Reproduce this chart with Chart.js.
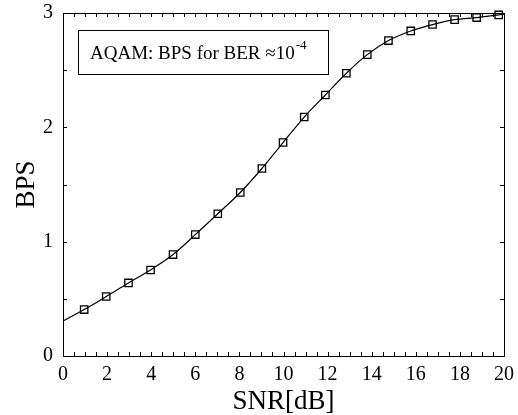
<!DOCTYPE html>
<html lang="en">
<head>
  <meta charset="UTF-8">
  <title>AQAM BPS vs SNR</title>
  <script src="https://cdn.jsdelivr.net/npm/chart.js"></script>
  <style>
    html, body { margin: 0; padding: 0; background: #fff; }
    canvas { display: block; }
  </style>
</head>
<body>
  <canvas id="bpsChart" width="518" height="415"></canvas>
  <script>
    // curve samples (first/last are line ends, no marker)
    const snr = [0, 0.96, 1.96, 2.97, 3.97, 4.99, 6.0, 7.02, 8.04, 9.02, 9.98,
      10.94, 11.9, 12.85, 13.8, 14.76, 15.77, 16.76, 17.76, 18.76, 19.76, 20];
    const bps = [0.306, 0.406, 0.52, 0.639, 0.752, 0.887, 1.062, 1.244, 1.43, 1.64, 1.867,
      2.09, 2.283, 2.473, 2.636, 2.759, 2.843, 2.899, 2.942, 2.96, 2.983, 2.99];
    const xLabels = [0, 2, 4, 6, 8, 10, 12, 14, 16, 18, 20];
    const yLabels = [0, 1, 2, 3];
    const boxText = 'AQAM: BPS for BER \u224810';
    const boxSup = '-4';

    const serif = '"Liberation Serif", "Times New Roman", serif';

    // inward tick marks on all four sides + frame + the text box
    const framePlugin = {
      id: 'frame',
      afterDatasetsDraw(chart) {
        const { ctx, chartArea: a, scales: { x, y } } = chart;
        ctx.save();
        ctx.strokeStyle = '#000';
        ctx.lineWidth = 1;
        ctx.strokeRect(a.left + 0.5, a.top + 0.5, a.right - a.left, a.bottom - a.top);
        ctx.beginPath();
        x.ticks.forEach(t => {
          const px = Math.round(x.getPixelForValue(t.value)) + 0.5;
          ctx.moveTo(px, a.bottom); ctx.lineTo(px, a.bottom - 4);
          ctx.moveTo(px, a.top); ctx.lineTo(px, a.top + 4);
        });
        y.ticks.forEach(t => {
          const py = Math.round(y.getPixelForValue(t.value)) + 0.5;
          ctx.moveTo(a.left, py); ctx.lineTo(a.left + 4, py);
          ctx.moveTo(a.right, py); ctx.lineTo(a.right - 4, py);
        });
        ctx.stroke();

        // annotation box
        const bx = a.left + 15, by = a.top + 17;
        ctx.strokeRect(bx + 0.5, by + 0.5, 250, 44);
        ctx.fillStyle = '#000';
        ctx.textBaseline = 'alphabetic';
        ctx.font = '19px ' + serif;
        ctx.fillText(boxText, bx + 12, by + 29);
        const w = ctx.measureText(boxText).width;
        ctx.font = '13px ' + serif;
        ctx.fillText(boxSup, bx + 12 + w + 1, by + 19);
        ctx.restore();
      }
    };

    new Chart(document.getElementById('bpsChart'), {
      type: 'line',
      data: {
        datasets: [{
          data: snr.map((v, i) => ({ x: v, y: bps[i] })),
          borderColor: '#000',
          borderWidth: 1.2,
          cubicInterpolationMode: 'monotone',
          pointStyle: 'rect',
          pointRadius: snr.map((v, i) => (i === 0 || i === snr.length - 1) ? 0 : 5.2),
          pointBorderWidth: 1.3,
          pointBorderColor: '#000',
          pointBackgroundColor: 'rgba(0,0,0,0)',
          clip: false
        }]
      },
      options: {
        responsive: false,
        animation: false,
        events: [],
        layout: { padding: { top: 13, right: 14, left: 0, bottom: 0 } },
        plugins: { legend: { display: false }, tooltip: { enabled: false } },
        scales: {
          x: {
            type: 'linear',
            min: 0, max: 20,
            afterFit: s => {
              s.height = 59;
              s.paddingLeft = 0; s.paddingRight = 0;
            },
            grid: { display: false, drawTicks: false },
            border: { display: false },
            ticks: {
              stepSize: 0.5,
              autoSkip: false,
              maxRotation: 0,
              padding: 7,
              color: '#000',
              font: { family: serif, size: 20 },
              callback: v => xLabels.includes(v) ? String(v) : ''
            },
            title: {
              display: true,
              text: 'SNR[dB]',
              color: '#000',
              font: { family: serif, size: 27, lineHeight: 1 },
              padding: 0
            }
          },
          y: {
            min: 0, max: 3,
            afterFit: s => {
              s.width = 63;
              s.paddingTop = 0; s.paddingBottom = 0;
            },
            grid: { display: false, drawTicks: false },
            border: { display: false },
            ticks: {
              stepSize: 0.5,
              autoSkip: false,
              padding: 10,
              color: '#000',
              font: { family: serif, size: 20 },
              callback: v => yLabels.includes(v) ? String(v) : ''
            },
            title: {
              display: true,
              text: 'BPS',
              color: '#000',
              font: { family: serif, size: 27, lineHeight: 1.2 },
              padding: { top: 11, bottom: 0 }
            }
          }
        }
      },
      plugins: [framePlugin]
    });
  </script>
</body>
</html>
